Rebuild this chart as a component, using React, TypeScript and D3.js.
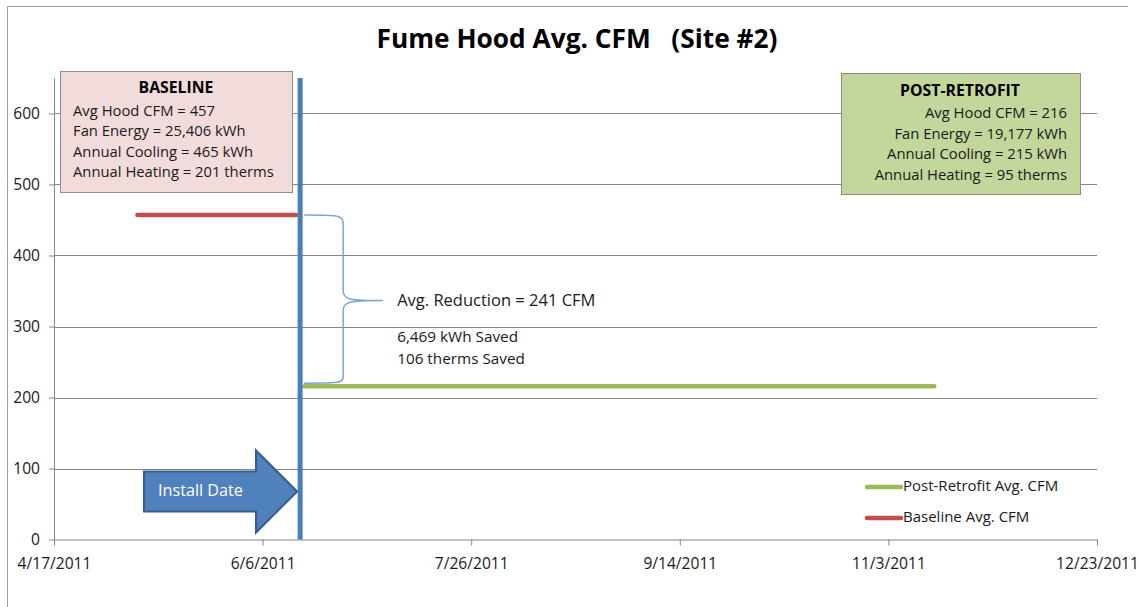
import React, { useEffect, useRef } from "react";
import * as d3 from "d3";

// axis ticks
const xTickLabels = ["4/17/2011", "6/6/2011", "7/26/2011", "9/14/2011", "11/3/2011", "12/23/2011"];
const yTickValues = [0, 100, 200, 300, 400, 500, 600];

// series
const baselineDates = ["5/7/2011", "6/14/2011"];
const baselineValues = [457, 457];
const retrofitDates = ["6/16/2011", "11/14/2011"];
const retrofitValues = [216, 216];
const installDate = "6/15/2011";

// annotation texts
const baselineLines = [
  "Avg Hood CFM = 457",
  "Fan Energy = 25,406 kWh",
  "Annual Cooling = 465 kWh",
  "Annual Heating = 201 therms",
];
const retrofitLines = [
  "Avg Hood CFM = 216",
  "Fan Energy = 19,177 kWh",
  "Annual Cooling = 215 kWh",
  "Annual Heating = 95 therms",
];
const savingsLines = ["Avg. Reduction = 241 CFM", "6,469 kWh Saved", "106 therms Saved"];
const legendItems = [
  { label: "Post-Retrofit Avg. CFM", color: "#9BBB59" },
  { label: "Baseline Avg. CFM", color: "#C0504D" },
];

const FONT = "'Open Sans', sans-serif";

export default function App() {
  const ref = useRef<SVGSVGElement>(null);

  useEffect(() => {
    document.body.style.margin = "0";
    const svg = d3.select(ref.current);
    svg.selectAll("*").remove();

    const width = 1138;
    const height = 607;
    const parse = d3.utcParse("%m/%d/%Y");

    const x = d3.scaleUtc()
      .domain([parse(xTickLabels[0])!, parse(xTickLabels[xTickLabels.length - 1])!])
      .range([54, 1097]);
    const y = d3.scaleLinear().domain([0, 650]).range([539.5, 78]);

    svg.attr("width", width).attr("height", height)
      .style("font-family", FONT);

    // outer frame
    svg.append("path")
      .attr("d", "M7.5,607 V6.5 H1128")
      .attr("fill", "none")
      .attr("stroke", "#a0a0a0");

    // title
    svg.append("text")
      .attr("x", 577).attr("y", 41)
      .attr("text-anchor", "middle")
      .attr("dominant-baseline", "middle")
      .attr("font-size", 26.3).attr("font-weight", "bold")
      .attr("xml:space", "preserve")
      .text("Fume Hood Avg. CFM   (Site #2)");

    // gridlines
    svg.append("g")
      .selectAll("line")
      .data(yTickValues.filter(v => v > 0))
      .join("line")
      .attr("x1", x.range()[0]).attr("x2", x.range()[1])
      .attr("y1", d => Math.round(y(d)) + 0.5).attr("y2", d => Math.round(y(d)) + 0.5)
      .attr("stroke", "#868686");

    // axes
    const xAxis = svg.append("g")
      .attr("transform", `translate(0,${y(0)})`)
      .call(d3.axisBottom(x)
        .tickValues(xTickLabels.map(s => parse(s)!))
        .tickFormat(d3.utcFormat("%-m/%-d/%Y") as any)
        .tickSize(6).tickSizeOuter(0).tickPadding(12));
    const yAxis = svg.append("g")
      .attr("transform", `translate(${x.range()[0]},0)`)
      .call(d3.axisLeft(y).tickValues(yTickValues).tickSize(5).tickSizeOuter(0).tickPadding(9));
    [xAxis, yAxis].forEach(g => {
      g.selectAll("path, line").attr("stroke", "#868686");
      g.selectAll("text").attr("font-family", FONT).attr("font-size", 15.6).attr("fill", "#1a1a1a");
    });

    // series
    const line = d3.line<[Date, number]>().x(d => x(d[0])).y(d => y(d[1]));
    const baseline: [Date, number][] = baselineDates.map((s, i) => [parse(s)!, baselineValues[i]]);
    const retrofit: [Date, number][] = retrofitDates.map((s, i) => [parse(s)!, retrofitValues[i]]);
    svg.append("path").datum(baseline).attr("d", line)
      .attr("fill", "none").attr("stroke", "#C0504D").attr("stroke-width", 4.5)
      .attr("stroke-linecap", "round");
    svg.append("path").datum(retrofit).attr("d", line)
      .attr("fill", "none").attr("stroke", "#9BBB59").attr("stroke-width", 4.5)
      .attr("stroke-linecap", "round");

    // install date vertical line
    const xi = x(parse(installDate)!);
    svg.append("line")
      .attr("x1", xi).attr("x2", xi)
      .attr("y1", y.range()[1]).attr("y2", y(0))
      .attr("stroke", "#4A7EBB").attr("stroke-width", 5);

    // brace
    const yTop = y(baselineValues[0]);
    const yBot = y(retrofitValues[0]);
    const yMid = (yTop + yBot) / 2;
    const bx0 = xi + 4, bx1 = xi + 43, bx2 = xi + 83;
    const brace = d3.path();
    brace.moveTo(bx0, yTop);
    brace.bezierCurveTo(bx1, yTop, bx1, yTop, bx1, yTop + 12);
    brace.lineTo(bx1, yMid - 10);
    brace.bezierCurveTo(bx1, yMid - 1, bx1 + 6, yMid, bx2, yMid);
    brace.bezierCurveTo(bx1 + 6, yMid, bx1, yMid + 1, bx1, yMid + 10);
    brace.lineTo(bx1, yBot - 12);
    brace.bezierCurveTo(bx1, yBot - 3, bx1, yBot - 3, bx0, yBot - 3);
    svg.append("path").attr("d", brace.toString())
      .attr("fill", "none").attr("stroke", "#7EA3D3").attr("stroke-width", 1.5);

    svg.append("text")
      .attr("x", bx2 + 14).attr("y", yMid + 1)
      .attr("dominant-baseline", "middle")
      .attr("font-size", 16.5).attr("fill", "#1a1a1a")
      .text(savingsLines[0]);
    svg.append("g").selectAll("text")
      .data(savingsLines.slice(1))
      .join("text")
      .attr("x", bx2 + 14).attr("y", (d, i) => 338 + i * 22)
      .attr("dominant-baseline", "middle")
      .attr("font-size", 15.3).attr("fill", "#1a1a1a")
      .text(d => d);

    // baseline box
    const b = svg.append("g");
    b.append("rect").attr("x", 60.5).attr("y", 71.5).attr("width", 232).attr("height", 121)
      .attr("fill", "#F2DCDB").attr("stroke", "#8c8c8c");
    b.append("text").attr("x", 176).attr("y", 89)
      .attr("text-anchor", "middle").attr("dominant-baseline", "middle")
      .attr("font-size", 15.8).attr("font-weight", "bold").text("BASELINE");
    b.selectAll("text.l").data(baselineLines).join("text").attr("class", "l")
      .attr("x", 73).attr("y", (d, i) => 112 + i * 20.3)
      .attr("dominant-baseline", "middle")
      .attr("font-size", 14.8).attr("fill", "#1a1a1a").text(d => d);

    // post-retrofit box
    const r = svg.append("g");
    r.append("rect").attr("x", 841.5).attr("y", 73.5).attr("width", 239).attr("height", 121)
      .attr("fill", "#C3D69B").attr("stroke", "#8c8c8c");
    r.append("text").attr("x", 960).attr("y", 92)
      .attr("text-anchor", "middle").attr("dominant-baseline", "middle")
      .attr("font-size", 15.8).attr("font-weight", "bold").text("POST-RETROFIT");
    r.selectAll("text.l").data(retrofitLines).join("text").attr("class", "l")
      .attr("x", 1067).attr("y", (d, i) => 114 + i * 20.7)
      .attr("text-anchor", "end").attr("dominant-baseline", "middle")
      .attr("font-size", 14.8).attr("fill", "#1a1a1a").text(d => d);

    // install date arrow
    const ay = 491.5;
    const tip = xi - 3;
    const arrow = [
      [144, ay - 20], [256, ay - 20], [256, ay - 41], [tip, ay],
      [256, ay + 41], [256, ay + 20], [144, ay + 20],
    ];
    svg.append("path")
      .attr("d", d3.line()(arrow as [number, number][]) + "Z")
      .attr("fill", "#4F81BD").attr("stroke", "#385D8A").attr("stroke-width", 2)
      .attr("stroke-linejoin", "miter");
    svg.append("text").attr("x", 158).attr("y", ay)
      .attr("dominant-baseline", "middle")
      .attr("font-size", 16.2).attr("fill", "#ffffff").text("Install Date");

    // legend
    const lg = svg.append("g");
    legendItems.forEach((it, i) => {
      const ly = 487 + i * 31;
      lg.append("line").attr("x1", 867).attr("x2", 901).attr("y1", ly).attr("y2", ly)
        .attr("stroke", it.color).attr("stroke-width", 4.5).attr("stroke-linecap", "round");
      lg.append("text").attr("x", 903).attr("y", ly)
        .attr("dominant-baseline", "middle")
        .attr("font-size", 15).attr("fill", "#1a1a1a").text(it.label);
    });
  }, []);

  return <svg ref={ref} />;
}
